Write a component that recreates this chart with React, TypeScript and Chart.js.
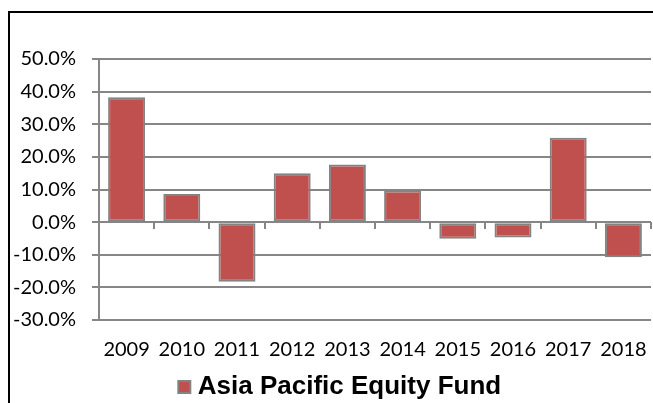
import React, { useEffect, useRef } from "react";
import { Chart, registerables } from "chart.js";

Chart.register(...registerables);

const categories = ["2009", "2010", "2011", "2012", "2013", "2014", "2015", "2016", "2017", "2018"];
const fundValues = [38.3, 8.6, -18.3, 15.0, 17.7, 9.7, -5.1, -4.7, 25.9, -10.8];
const seriesName = "Asia Pacific Equity Fund";
const yMin = -30;
const yMax = 50;
const yStep = 10;

const GRID = "#868686";

const legendShift = {
  id: "legendShift",
  afterLayout(chart: any) {
    if (chart.legend) {
      chart.legend.left += 17;
      chart.legend.right += 17;
    }
  },
};

export default function App() {
  const ref = useRef<HTMLCanvasElement | null>(null);

  useEffect(() => {
    if (!ref.current) return;
    const chart = new Chart(ref.current, {
      type: "bar",
      data: {
        labels: categories,
        datasets: [
          {
            label: seriesName,
            data: fundValues,
            backgroundColor: "#C0504D",
            borderColor: "#838383",
            borderWidth: 2,
            borderSkipped: false,
            barPercentage: 0.67,
            categoryPercentage: 1,
            xAxisID: "x",
            yAxisID: "y",
          },
        ],
      },
      plugins: [legendShift],
      options: {
        responsive: false,
        animation: false,
        devicePixelRatio: 1,
        layout: { padding: { top: 59, right: 2, bottom: 4, left: 0 } },
        plugins: {
          tooltip: { enabled: false },
          legend: {
            position: "bottom",
            labels: {
              usePointStyle: true,
              pointStyle: "rect",
              boxWidth: 1,
              boxHeight: 12,
              padding: 0,
              color: "#000",
              font: { family: "'Liberation Sans', Arial, sans-serif", size: 26, weight: "bold" },
            },
          },
        },
        scales: {
          x: {
            type: "category",
            position: "bottom",
            offset: true,
            grid: {
              display: true,
              drawOnChartArea: false,
              drawTicks: true,
              tickLength: 18,
              color: "rgba(0,0,0,0)",
            },
            border: { display: false },
            ticks: {
              padding: 0,
              color: "#000",
              font: { family: "Lato, sans-serif", size: 20 },
              maxRotation: 0,
              autoSkip: false,
            },
            afterFit: (s: any) => {
              s.height = 54;
            },
          },
          x0: {
            type: "category",
            axis: "x",
            labels: categories,
            position: { y: 0 } as any,
            offset: true,
            grid: {
              offset: true,
              drawOnChartArea: false,
              drawTicks: true,
              tickLength: 7,
              color: GRID,
              lineWidth: 2,
            },
            border: { display: false },
            ticks: { display: false },
          },
          y: {
            type: "linear",
            min: yMin,
            max: yMax,
            ticks: {
              stepSize: yStep,
              padding: 16,
              color: "#000",
              font: { family: "Lato, sans-serif", size: 20 },
              callback: (v: any) => Number(v).toFixed(1) + "%",
            },
            grid: { color: GRID, lineWidth: 2, tickLength: 7, drawTicks: true },
            border: { display: true, color: GRID, width: 2 },
            afterFit: (s: any) => {
              s.width = 99;
            },
          },
        },
      },
    });
    return () => chart.destroy();
  }, []);

  return (
    <div
      style={{
        position: "fixed",
        left: 0,
        top: 0,
        width: 653,
        height: 403,
        overflow: "hidden",
        background: "#fff",
      }}
    >
      <div
        style={{
          position: "absolute",
          left: 8,
          top: 11,
          width: 800,
          height: 600,
          border: "2px solid #000",
          boxSizing: "border-box",
        }}
      />
      <canvas
        ref={ref}
        width={653}
        height={414}
        style={{ position: "absolute", left: 0, top: 0, width: 653, height: 414 }}
      />
    </div>
  );
}
